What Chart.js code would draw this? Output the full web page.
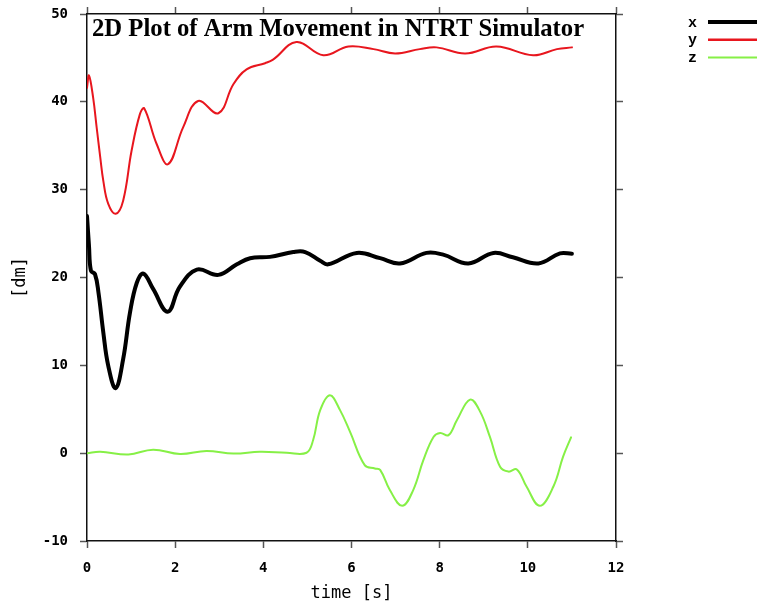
<!DOCTYPE html>
<html>
<head>
<meta charset="utf-8">
<script src="https://cdn.jsdelivr.net/npm/chart.js@4/dist/chart.umd.min.js"></script>
<style>
  html, body { margin: 0; padding: 0; background: #fff; }
  #wrap { width: 759px; height: 606px; position: relative; }
</style>
</head>
<body>
<div id="wrap"><canvas id="c" width="759" height="606"></canvas></div>
<script>
// ---- data ----
const TITLE = "2D Plot of Arm Movement in NTRT Simulator";
const X_LABEL = "time [s]";
const Y_LABEL = "[dm]";
const SERIES_NAMES = ["x", "y", "z"];

const xTime = [0, 0.045, 0.09, 0.18, 0.26, 0.37, 0.48, 0.65, 0.82, 0.975, 1.13, 1.28, 1.5, 1.83, 2.1, 2.49, 2.98, 3.4, 3.7, 4.15, 4.68, 4.95, 5.29, 5.47, 6.12, 6.65, 7.1, 7.7, 8.08, 8.65, 9.22, 9.66, 10.24, 10.73, 11.0];
const xVals = [27.0, 23.6, 20.75, 20.4, 18.3, 13.75, 10.0, 7.4, 10.7, 16.0, 19.4, 20.45, 18.7, 16.1, 18.9, 20.9, 20.3, 21.5, 22.2, 22.35, 22.9, 22.9, 21.9, 21.5, 22.8, 22.2, 21.6, 22.8, 22.6, 21.6, 22.8, 22.3, 21.6, 22.75, 22.7];

const yTime = [0, 0.045, 0.14, 0.22, 0.3, 0.37, 0.48, 0.65, 0.82, 1.01, 1.2, 1.3, 1.58, 1.84, 2.18, 2.52, 2.98, 3.32, 3.62, 4.04, 4.22, 4.75, 5.36, 5.93, 6.5, 6.99, 7.55, 7.93, 8.58, 9.29, 10.12, 10.66, 11.0];
const yVals = [41.6, 43.0, 40.45, 37.05, 33.7, 31.0, 28.4, 27.25, 28.75, 34.4, 38.6, 39.25, 35.2, 32.9, 37.1, 40.1, 38.7, 42.0, 43.7, 44.4, 44.8, 46.8, 45.3, 46.3, 46.0, 45.5, 46.0, 46.2, 45.5, 46.3, 45.3, 46.0, 46.2];

const zTime = [0, 0.3, 0.94, 1.5, 2.11, 2.71, 3.32, 3.92, 4.53, 4.98, 5.13, 5.29, 5.51, 5.74, 5.97, 6.3, 6.53, 6.65, 6.87, 7.15, 7.4, 7.63, 7.86, 8.01, 8.2, 8.39, 8.69, 8.92, 9.14, 9.37, 9.56, 9.75, 9.97, 10.27, 10.58, 10.8, 10.98];
const zVals = [0, 0.15, -0.15, 0.4, -0.1, 0.25, -0.05, 0.15, 0.05, 0.05, 1.5, 4.9, 6.6, 4.9, 2.4, -1.36, -1.74, -1.9, -4.2, -6.0, -4.2, -0.8, 1.85, 2.3, 2.05, 3.75, 6.1, 4.7, 1.85, -1.55, -2.1, -1.85, -3.8, -6.0, -3.8, -0.4, 1.8];

const xTicks = [0, 2, 4, 6, 8, 10, 12];
const yTicks = [-10, 0, 10, 20, 30, 40, 50];

// ---- build chart ----
const toPts = (ts, vs) => ts.map((t, i) => ({ x: t, y: vs[i] }));

const COLORS = ["#000000", "#e8161e", "#86f046"];
const WIDTHS = [4, 2, 2];
const LEGEND_WIDTHS = [4, 2.5, 2];

const tickFont = { family: '"DejaVu Sans Mono", monospace', size: 14, weight: 'bold' };
const titleFont = { family: '"DejaVu Sans Mono", monospace', size: 17, weight: 'normal' };

const titlePlugin = {
  id: 'innerTitle',
  afterDatasetsDraw(chart) {
    const ctx = chart.ctx;
    ctx.save();
    ctx.font = 'bold 24.7px "Liberation Serif", "Times New Roman", serif';
    ctx.fillStyle = '#000';
    ctx.textAlign = 'left';
    ctx.textBaseline = 'alphabetic';
    ctx.fillText(TITLE, chart.chartArea.left + 5, chart.chartArea.top + 22);
    ctx.restore();
  }
};

const legendPlugin = {
  id: 'sideLegend',
  afterDraw(chart) {
    const ctx = chart.ctx;
    ctx.save();
    ctx.font = 'bold 15px "Liberation Mono", "Courier New", monospace';
    ctx.textAlign = 'right';
    ctx.textBaseline = 'middle';
    chart.data.datasets.forEach((ds, i) => {
      const y = 22 + i * 17.7;
      ctx.fillStyle = '#000';
      ctx.fillText(ds.label, 697, y + 1);
      ctx.strokeStyle = ds.borderColor;
      ctx.lineWidth = LEGEND_WIDTHS[i];
      ctx.beginPath();
      ctx.moveTo(708, y);
      ctx.lineTo(757, y);
      ctx.stroke();
    });
    ctx.restore();
  }
};

const fixedTicks = (arr) => (scale) => { scale.ticks = arr.map(v => ({ value: v })); };

new Chart(document.getElementById('c'), {
  type: 'line',
  data: {
    datasets: [
      { label: SERIES_NAMES[0], data: toPts(xTime, xVals) },
      { label: SERIES_NAMES[1], data: toPts(yTime, yVals) },
      { label: SERIES_NAMES[2], data: toPts(zTime, zVals) }
    ].map((d, i) => Object.assign(d, {
      borderColor: COLORS[i],
      backgroundColor: COLORS[i],
      borderWidth: WIDTHS[i],
      borderJoinStyle: 'round',
      borderCapStyle: 'round',
      pointRadius: 0,
      fill: false,
      tension: 0.4
    }))
  },
  options: {
    responsive: false,
    animation: false,
    events: [],
    layout: { padding: { left: 0, right: 136, top: 7, bottom: 0 } },
    plugins: { legend: { display: false }, tooltip: { enabled: false }, title: { display: false } },
    scales: {
      x: {
        type: 'linear', position: 'bottom', min: 0, max: 12,
        afterBuildTicks: fixedTicks(xTicks),
        afterFit: (s) => { s.height = 65; s.paddingLeft = 0; s.paddingRight = 0; },
        ticks: { font: tickFont, color: '#000', padding: 12, maxRotation: 0 },
        grid: { drawOnChartArea: false, drawTicks: true, tickLength: 7, tickColor: '#555', tickWidth: 1.5 },
        border: { display: true, color: '#111', width: 1.5 },
        title: { display: true, text: X_LABEL, font: titleFont, color: '#000', padding: { top: 0, bottom: 2 } }
      },
      x2: {
        type: 'linear', position: 'top', min: 0, max: 12,
        afterBuildTicks: fixedTicks(xTicks),
        afterFit: (s) => { s.height = 7; s.paddingLeft = 0; s.paddingRight = 0; },
        ticks: { display: false },
        grid: { drawOnChartArea: false, drawTicks: true, tickLength: 7, tickColor: '#555', tickWidth: 1.5 },
        border: { display: true, color: '#111', width: 1.5 }
      },
      y: {
        type: 'linear', position: 'left', min: -10, max: 50,
        afterBuildTicks: fixedTicks(yTicks),
        afterFit: (s) => { s.width = 87; s.paddingTop = 0; s.paddingBottom = 0; },
        ticks: { font: tickFont, color: '#000', padding: 12 },
        grid: { drawOnChartArea: false, drawTicks: true, tickLength: 7, tickColor: '#555', tickWidth: 1.5 },
        border: { display: true, color: '#111', width: 1.5 },
        title: { display: true, text: Y_LABEL, font: titleFont, color: '#000', padding: { top: 10, bottom: 0 } }
      },
      y2: {
        type: 'linear', position: 'right', min: -10, max: 50,
        afterBuildTicks: fixedTicks(yTicks),
        afterFit: (s) => { s.width = 7; s.paddingTop = 0; s.paddingBottom = 0; },
        ticks: { display: false },
        grid: { drawOnChartArea: false, drawTicks: true, tickLength: 7, tickColor: '#555', tickWidth: 1.5 },
        border: { display: true, color: '#111', width: 1.5 }
      }
    }
  },
  plugins: [titlePlugin, legendPlugin]
});
</script>
</body>
</html>
